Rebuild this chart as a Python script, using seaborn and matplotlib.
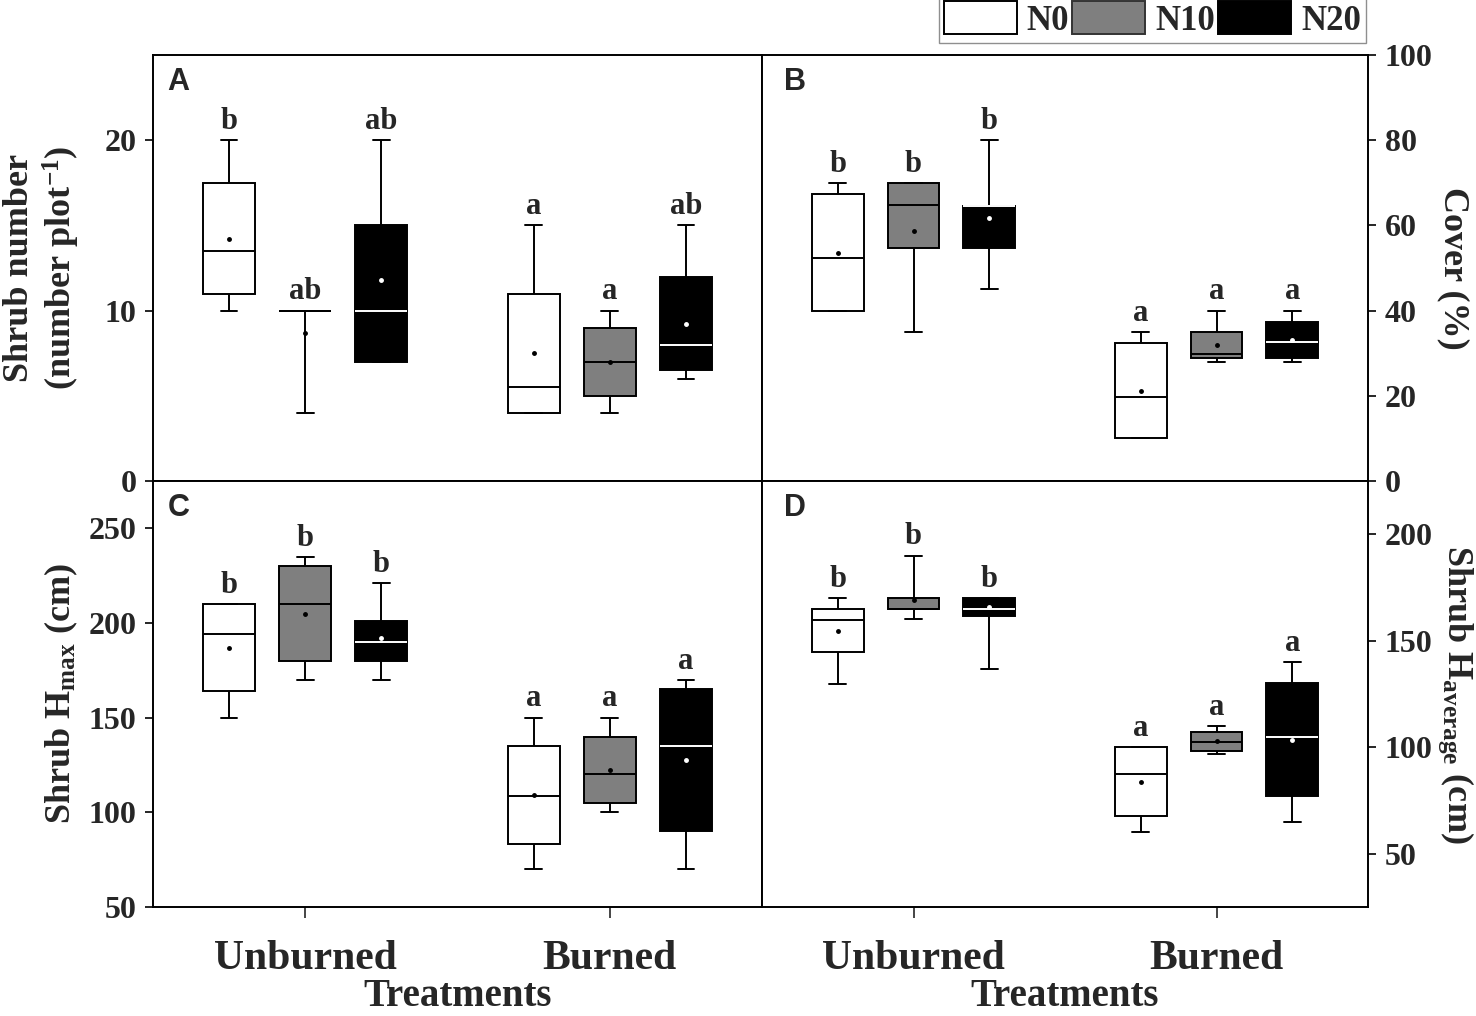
import matplotlib
matplotlib.use("Agg")
import matplotlib.pyplot as plt
from matplotlib.patches import Patch
import pandas as pd
import seaborn as sns

treatments = ["Unburned", "Burned"]
n_levels = ["N0", "N10", "N20"]
# every list below: Unburned N0, N10, N20, then Burned N0, N10, N20

# A - shrub number
number_low = [10, 4, 7, 4, 4, 6]
number_q1 = [11, 10, 7, 4, 5, 6.5]
number_med = [13.5, 10, 10, 5.5, 7, 8]
number_q3 = [17.5, 10, 15, 11, 9, 12]
number_high = [20, 10, 20, 15, 10, 15]
number_mean = [14.2, 8.7, 11.8, 7.5, 7.0, 9.2]
number_letters = ["b", "ab", "ab", "a", "a", "ab"]

# B - cover (%)
cover_low = [40, 35, 45, 10, 28, 28]
cover_q1 = [40, 54.8, 54.8, 10, 28.8, 28.8]
cover_med = [52.3, 64.7, 64.5, 19.8, 29.7, 32.6]
cover_q3 = [67.3, 70, 64.5, 32.4, 35, 37.4]
cover_high = [70, 70, 80, 35, 40, 40]
cover_mean = [53.6, 58.8, 61.8, 21.1, 31.9, 33.1]
cover_letters = ["b", "b", "b", "a", "a", "a"]

# C - maximum height (cm)
hmax_low = [150, 170, 170, 70, 100, 70]
hmax_q1 = [164, 180, 180, 83.5, 105, 90]
hmax_med = [194, 210, 190, 108.6, 120, 135]
hmax_q3 = [210, 230, 201, 135, 140, 165]
hmax_high = [210, 235, 221, 150, 150, 170]
hmax_mean = [187, 205, 192.3, 109.3, 122.5, 127.6]
hmax_letters = ["b", "b", "b", "a", "a", "a"]

# D - average height (cm)
havg_low = [129.6, 160, 136.7, 60, 97, 65]
havg_q1 = [144.6, 165, 161.6, 67.5, 98.2, 77.2]
havg_med = [159.7, 165, 164.8, 87.4, 102.4, 104.9]
havg_q3 = [164.8, 170, 170, 100, 107.3, 130]
havg_high = [170, 190, 170, 100, 110, 140]
havg_mean = [154.7, 169, 166, 83.6, 103, 103.5]
havg_letters = ["b", "b", "b", "a", "a", "a"]

box_colors = {"N0": "white", "N10": "#7f7f7f", "N20": "black"}
mean_colors = {"N0": "black", "N10": "black", "N20": "white"}

sns.set_style("ticks")
plt.rcParams["font.family"] = ["Liberation Serif", "DejaVu Serif"]
plt.rcParams["font.weight"] = "bold"
plt.rcParams["axes.labelweight"] = "bold"
plt.rcParams["mathtext.fontset"] = "custom"
plt.rcParams["mathtext.rm"] = "Liberation Serif:bold"
plt.rcParams["mathtext.bf"] = "Liberation Serif:bold"
plt.rcParams["mathtext.it"] = "Liberation Serif:bold"
plt.rcParams["mathtext.default"] = "rm"


def draw_panel(ax, low, q1, med, q3, high, mean, letters):
    # five values per box give exactly these quartiles / whisker ends
    rows = []
    for i, five in enumerate(zip(low, q1, med, q3, high)):
        for v in five:
            rows.append({"Treatment": treatments[i // 3], "N": n_levels[i % 3], "value": v})
    df = pd.DataFrame(rows)
    sns.boxplot(data=df, x="Treatment", y="value", hue="N", order=treatments,
                hue_order=n_levels, palette=box_colors, saturation=1, width=0.75,
                gap=0.32, whis=(0, 100), linecolor="black", linewidth=1.4,
                fliersize=0, capwidths=0.055, legend=False, ax=ax)
    boxes = [c for c in ax.containers if hasattr(c, "medians")]
    if len(boxes) == 3:
        for line in boxes[2].medians:
            line.set_color("white")

    mean_df = pd.DataFrame({"Treatment": [treatments[i // 3] for i in range(6)],
                            "N": [n_levels[i % 3] for i in range(6)],
                            "mean": mean})
    sns.pointplot(data=mean_df, x="Treatment", y="mean", hue="N", order=treatments,
                  hue_order=n_levels, palette=mean_colors, dodge=0.5, linestyle="none",
                  marker="o", markersize=1.5, errorbar=None, legend=False,
                  zorder=10, ax=ax)

    for i, lab in enumerate(letters):
        xpos = i // 3 + (i % 3 - 1) * 0.25
        ax.annotate(lab, (xpos, high[i]), xytext=(0, 3), textcoords="offset points",
                    ha="center", va="bottom", fontsize=22, fontweight="bold")
    ax.set_xlim(-0.5, 1.5)
    ax.set_xlabel("")
    ax.set_ylabel("")
    for sp in ax.spines.values():
        sp.set_visible(True)
        sp.set_linewidth(1.4)
        sp.set_color("black")


fig = plt.figure(figsize=(14.76, 10.16), dpi=100)
W, H = 1476, 1016
ax_a = fig.add_axes([153 / W, 1 - 481 / H, 609 / W, 426 / H])
ax_b = fig.add_axes([762 / W, 1 - 481 / H, 606 / W, 426 / H])
ax_c = fig.add_axes([153 / W, 1 - 907 / H, 609 / W, 426 / H])
ax_d = fig.add_axes([762 / W, 1 - 907 / H, 606 / W, 426 / H])

draw_panel(ax_a, number_low, number_q1, number_med, number_q3, number_high, number_mean, number_letters)
draw_panel(ax_b, cover_low, cover_q1, cover_med, cover_q3, cover_high, cover_mean, cover_letters)
draw_panel(ax_c, hmax_low, hmax_q1, hmax_med, hmax_q3, hmax_high, hmax_mean, hmax_letters)
draw_panel(ax_d, havg_low, havg_q1, havg_med, havg_q3, havg_high, havg_mean, havg_letters)

ax_a.set_ylim(0, 25)
ax_a.set_yticks([0, 10, 20])
ax_b.set_ylim(0, 100)
ax_b.set_yticks([0, 20, 40, 60, 80, 100])
ax_c.set_ylim(50, 275)
ax_c.set_yticks([50, 100, 150, 200, 250])
ax_d.set_ylim(25, 225)
ax_d.set_yticks([50, 100, 150, 200])

for ax in (ax_b, ax_d):
    ax.yaxis.tick_right()
    ax.yaxis.set_label_position("right")

for ax in (ax_a, ax_b, ax_c, ax_d):
    ax.tick_params(axis="y", direction="out", length=6, width=1.4, labelsize=23, pad=6)
for ax in (ax_a, ax_b):
    ax.tick_params(axis="x", bottom=False, labelbottom=False)
for ax in (ax_c, ax_d):
    ax.tick_params(axis="x", direction="out", length=8, width=1.2, labelsize=30, pad=16)
    ax.set_xticks([0, 1])
    ax.set_xticklabels(treatments)
    ax.set_xlabel("Treatments", fontsize=28, fontweight="bold", labelpad=0)

ax_a.set_ylabel("Shrub number\n(number plot$^{-1}$)", fontsize=26, fontweight="bold",
                linespacing=1.15)
ax_a.yaxis.set_label_coords(-0.117, 0.5)
ax_c.set_ylabel("Shrub H$_{max}$ (cm)", fontsize=26, fontweight="bold")
ax_c.yaxis.set_label_coords(-0.12, 0.5)
ax_b.set_ylabel("Cover (%)", fontsize=26, fontweight="bold", rotation=270, va="bottom")
ax_b.yaxis.set_label_coords(1.114, 0.5)
ax_d.set_ylabel("Shrub H$_{average}$ (cm)", fontsize=26, fontweight="bold",
                rotation=270, va="bottom")
ax_d.yaxis.set_label_coords(1.113, 0.5)

for ax, tag, tx in ((ax_a, "A", 0.024), (ax_b, "B", 0.036), (ax_c, "C", 0.024), (ax_d, "D", 0.036)):
    ax.text(tx, 0.972, tag, transform=ax.transAxes, ha="left", va="top",
            fontsize=22, fontweight="bold", family="Liberation Sans")

handles = [Patch(facecolor=box_colors[n], edgecolor="black" if n != "N10" else "#333333",
                 linewidth=1.4, label=n) for n in n_levels]
leg = fig.legend(handles=handles, loc="upper right", bbox_to_anchor=(1366 / W, 1.004),
                 ncol=3, frameon=True, fancybox=False, edgecolor="0.45",
                 prop={"size": 25, "weight": "bold", "family": "Liberation Serif"},
                 handlelength=2.1, handleheight=1.1, handletextpad=0.28,
                 columnspacing=0.1, borderpad=0.15, borderaxespad=0)
leg.get_frame().set_linewidth(1.0)

fig.savefig("out.png", dpi=100)
